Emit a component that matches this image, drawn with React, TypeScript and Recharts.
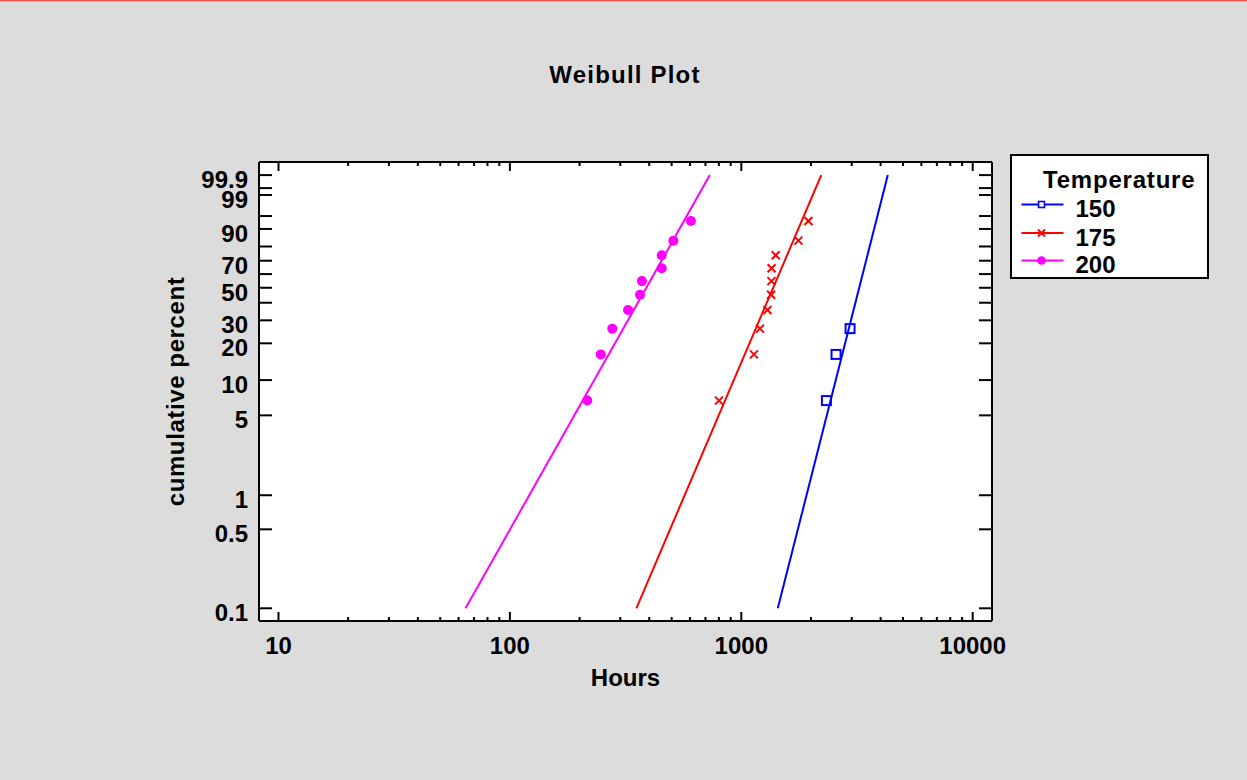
import React from 'react';
import { ComposedChart, Scatter, XAxis, YAxis, CartesianGrid, Legend } from 'recharts';

const FONT = '"Liberation Sans", Arial, Helvetica, sans-serif';

// ---- data (hours to failure, cumulative percent = median ranks) ----
const temperatures = ['150', '175', '200'];
const colors = ['#0000ff', '#ff0000', '#ff00ff'];

const percent150 = [6.7, 16.3, 26.0];
const hours150 = [2333, 2567, 2951];

const percent175 = [6.7, 16.3, 26.0, 35.6, 45.2, 54.8, 64.4, 74.0, 83.7, 93.3];
const hours175 = [801, 1134, 1204, 1297, 1345, 1350, 1352, 1408, 1766, 1950];

const percent200 = [6.7, 16.3, 26.0, 35.6, 45.2, 54.8, 64.4, 74.0, 83.7, 93.3];
const hours200 = [216, 247, 277, 324, 365, 372, 453, 453, 509, 606];

// fitted Weibull lines (endpoints)
const fitPercent = [0.1, 99.9];
const fitHours150 = [1438, 4297];
const fitHours175 = [352, 2216];
const fitHours200 = [64.3, 731];

// ---- axes ----
const xTicks = [10, 20, 30, 40, 50, 60, 70, 80, 90, 100, 200, 300, 400, 500, 600, 700, 800, 900,
  1000, 2000, 3000, 4000, 5000, 6000, 7000, 8000, 9000, 10000];
const xLabeled = [10, 100, 1000, 10000];
const xDomain = [8.237, 12117];

const yTickPercents = [0.1, 0.5, 1, 5, 10, 20, 30, 40, 50, 60, 70, 80, 90, 95, 99, 99.5, 99.9];
const yLabeled = [0.1, 0.5, 1, 5, 10, 20, 30, 50, 70, 90, 99, 99.9];
const yDomain = [-7.1665, 2.2];

const weib = (p: number) => Math.log(-Math.log(1 - p / 100));

const toPoints = (hours: number[], pct: number[]) => hours.map((h, i) => ({ x: h, y: weib(pct[i]) }));

const data150 = toPoints(hours150, percent150);
const data175 = toPoints(hours175, percent175);
const data200 = toPoints(hours200, percent200);
const fit150 = toPoints(fitHours150, fitPercent);
const fit175 = toPoints(fitHours175, fitPercent);
const fit200 = toPoints(fitHours200, fitPercent);

const yTickValues = yTickPercents.map(weib);

const near = (a: number, b: number) => Math.abs(a - b) < 1e-6;
const pctOf = (v: number) => yTickPercents.find((p) => near(weib(p), v));

const textStyle = { fontFamily: FONT, fontWeight: 700, fontSize: 24, fill: '#000' } as const;

const BottomTick = (props: any) => {
  const { x, y, payload } = props;
  const v = payload.value;
  const major = xLabeled.some((t) => near(t, v));
  return (
    <g>
      <line x1={x} x2={x} y1={y} y2={y - (major ? 9 : 4)} stroke="#000" strokeWidth={2} />
      {major && (
        <text x={x} y={y + 33} textAnchor="middle" style={textStyle}>{String(v)}</text>
      )}
    </g>
  );
};

const TopTick = (props: any) => {
  const { x, y, payload } = props;
  const v = payload.value;
  const major = xLabeled.some((t) => near(t, v));
  return <line x1={x} x2={x} y1={y} y2={y + (major ? 9 : 4)} stroke="#000" strokeWidth={2} />;
};

const LeftTick = (props: any) => {
  const { x, y, payload } = props;
  const p = pctOf(payload.value);
  const labeled = p !== undefined && yLabeled.includes(p);
  return (
    <g>
      <line x1={x} x2={x + 13} y1={y} y2={y} stroke="#000" strokeWidth={2} />
      {labeled && (
        <text x={x - 11} y={y + 13} textAnchor="end" style={textStyle}>{String(p)}</text>
      )}
    </g>
  );
};

const RightTick = (props: any) => {
  const { x, y } = props;
  return <line x1={x} x2={x - 13} y1={y} y2={y} stroke="#000" strokeWidth={2} />;
};

const SquareShape = (p: any) => (
  <rect x={p.cx - 4.5} y={p.cy - 4.5} width={9} height={9} fill="none" stroke={colors[0]} strokeWidth={2} />
);
const CrossShape = (p: any) => (
  <g stroke={colors[1]} strokeWidth={2}>
    <line x1={p.cx - 4} y1={p.cy - 4} x2={p.cx + 4} y2={p.cy + 4} />
    <line x1={p.cx - 4} y1={p.cy + 4} x2={p.cx + 4} y2={p.cy - 4} />
  </g>
);
const CircleShape = (p: any) => <circle cx={p.cx} cy={p.cy} r={5} fill={colors[2]} />;
const NoShape = () => <g />;

const LegendBox = () => {
  const rowY = [50.5, 79, 106.5];
  return (
    <svg width={199} height={125} style={{ display: 'block' }}>
      <rect x={1} y={1} width={197} height={123} fill="#fff" stroke="#000" strokeWidth={2} />
      <text x={33} y={33.5} style={{ ...textStyle, letterSpacing: 0.8 }}>Temperature</text>
      {temperatures.map((t, i) => {
        const cy = rowY[i];
        const c = colors[i];
        return (
          <g key={t}>
            <line x1={11.5} x2={53.5} y1={cy} y2={cy} stroke={c} strokeWidth={2} />
            {i === 0 && <rect x={28.5} y={cy - 3} width={6} height={6} fill="#fff" stroke={c} strokeWidth={1.6} />}
            {i === 1 && (
              <g stroke={c} strokeWidth={2}>
                <line x1={28} y1={cy - 3.5} x2={35} y2={cy + 3.5} />
                <line x1={28} y1={cy + 3.5} x2={35} y2={cy - 3.5} />
              </g>
            )}
            {i === 2 && <circle cx={31.5} cy={cy} r={4.2} fill={c} />}
            <text x={65.5} y={cy + 12.5} style={textStyle}>{t}</text>
          </g>
        );
      })}
    </svg>
  );
};

export default function App() {
  return (
    <div
      style={{
        position: 'absolute',
        left: 0,
        top: 0,
        width: 1247,
        height: 780,
        background: '#dcdcdc',
        overflow: 'hidden',
      }}
    >
      <div style={{ position: 'absolute', left: 0, top: 0, width: 1247, height: 1, background: '#ef5548' }} />
      <div style={{ position: 'absolute', left: 0, top: 1, width: 1247, height: 1, background: '#f0a49c' }} />
      <svg width={1247} height={120} style={{ position: 'absolute', left: 0, top: 0 }}>
        <text x={625} y={83} textAnchor="middle" style={{ ...textStyle, letterSpacing: 1.2 }}>Weibull Plot</text>
      </svg>
      <div style={{ position: 'absolute', left: 0, top: 0 }}>
        <ComposedChart width={1247} height={780} margin={{ top: 161, right: 254, bottom: 99, left: 199 }}>
          <CartesianGrid horizontal={false} vertical={false} fill="#ffffff" stroke="none" />
          <XAxis
            xAxisId="b"
            type="number"
            dataKey="x"
            scale="log"
            domain={xDomain}
            allowDataOverflow
            ticks={xTicks}
            interval={0}
            height={60}
            tickSize={0}
            tickMargin={0}
            tickLine={false}
            axisLine={{ stroke: '#000', strokeWidth: 2 }}
            tick={BottomTick}
            label={(props: any) => {
              const vb = props.viewBox;
              return (
                <text x={vb.x + vb.width / 2} y={vb.y + 64.7} textAnchor="middle" style={textStyle}>Hours</text>
              );
            }}
          />
          <XAxis
            xAxisId="t"
            orientation="top"
            type="number"
            dataKey="x"
            scale="log"
            domain={xDomain}
            allowDataOverflow
            ticks={xTicks}
            interval={0}
            height={1}
            tickSize={0}
            tickMargin={0}
            tickLine={false}
            axisLine={{ stroke: '#000', strokeWidth: 2 }}
            tick={TopTick}
          />
          <YAxis
            yAxisId="l"
            type="number"
            dataKey="y"
            domain={yDomain}
            allowDataOverflow
            ticks={yTickValues}
            interval={0}
            width={60}
            tickSize={0}
            tickMargin={0}
            tickLine={false}
            axisLine={{ stroke: '#000', strokeWidth: 2 }}
            tick={LeftTick}
            label={(props: any) => {
              const vb = props.viewBox;
              const cx = 184;
              const cy = vb.y + vb.height / 2;
              return (
                <text
                  x={cx}
                  y={cy}
                  textAnchor="middle"
                  transform={`rotate(-90 ${cx} ${cy})`}
                  style={{ ...textStyle, letterSpacing: 0.6 }}
                >
                  cumulative percent
                </text>
              );
            }}
          />
          <YAxis
            yAxisId="r"
            orientation="right"
            type="number"
            dataKey="y"
            domain={yDomain}
            allowDataOverflow
            ticks={yTickValues}
            interval={0}
            width={1}
            tickSize={0}
            tickMargin={0}
            tickLine={false}
            axisLine={{ stroke: '#000', strokeWidth: 2 }}
            tick={RightTick}
          />
          <Scatter xAxisId="b" yAxisId="l" data={fit200} line={{ stroke: colors[2], strokeWidth: 2 }} shape={NoShape} isAnimationActive={false} legendType="none" />
          <Scatter xAxisId="b" yAxisId="l" data={fit175} line={{ stroke: colors[1], strokeWidth: 2 }} shape={NoShape} isAnimationActive={false} legendType="none" />
          <Scatter xAxisId="b" yAxisId="l" data={fit150} line={{ stroke: colors[0], strokeWidth: 2 }} shape={NoShape} isAnimationActive={false} legendType="none" />
          <Scatter xAxisId="b" yAxisId="l" name="150" data={data150} shape={SquareShape} isAnimationActive={false} />
          <Scatter xAxisId="b" yAxisId="l" name="175" data={data175} shape={CrossShape} isAnimationActive={false} />
          <Scatter xAxisId="b" yAxisId="l" name="200" data={data200} shape={CircleShape} isAnimationActive={false} />
          <Legend
            layout="horizontal"
            verticalAlign="middle"
            align="center"
            content={<LegendBox />}
            wrapperStyle={{ left: 1010, top: 154, width: 199, height: 125 }}
          />
        </ComposedChart>
      </div>
    </div>
  );
}
